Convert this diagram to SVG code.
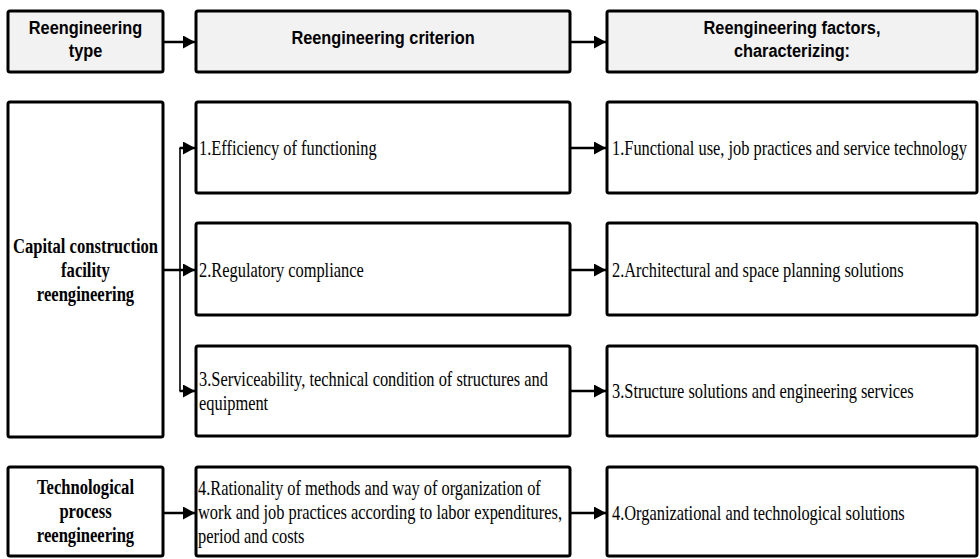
<svg xmlns="http://www.w3.org/2000/svg" width="980" height="559" viewBox="0 0 980 559">
<style>
.hdr{fill:#f2f2f2;stroke:#000;stroke-width:3}
.box{fill:#fff;stroke:#000;stroke-width:3}
.h{font-family:"Liberation Sans",Arial,sans-serif;font-weight:bold;font-size:19px;fill:#000;text-anchor:middle}
.t{font-family:"Liberation Serif","Times New Roman",serif;font-size:20.5px;fill:#000}
.b{font-family:"Liberation Serif","Times New Roman",serif;font-weight:bold;font-size:21px;fill:#000;text-anchor:middle}
.c{fill:none;stroke:#000;stroke-width:2.5}
.v{fill:none;stroke:#000;stroke-width:1.6}
</style>
<defs>
<marker id="ah" markerUnits="userSpaceOnUse" markerWidth="12" markerHeight="13" refX="12" refY="6.5" orient="auto">
<path d="M0,0 L12,6.5 L0,13 z" fill="#000"/>
</marker>
</defs>
<g id="hdr-type">
<rect class="hdr" x="8" y="11" width="155" height="61" rx="2"/>
<text class="h" transform="translate(85.5,34) scale(0.86,1)">Reengineering</text>
<text class="h" transform="translate(85.5,57) scale(0.86,1)">type</text>
</g>
<g id="hdr-criterion">
<rect class="hdr" x="196" y="11" width="374" height="61" rx="2"/>
<text class="h" transform="translate(383,44) scale(0.86,1)">Reengineering criterion</text>
</g>
<g id="hdr-factors">
<rect class="hdr" x="607" y="11" width="370" height="61" rx="2"/>
<text class="h" transform="translate(792,34) scale(0.86,1)">Reengineering factors,</text>
<text class="h" transform="translate(792,57) scale(0.86,1)">characterizing:</text>
</g>
<g id="type-capital">
<rect class="box" x="8" y="102" width="155" height="335" rx="2"/>
<text class="b" transform="translate(85.5,253) scale(0.79,1)">Capital construction</text>
<text class="b" transform="translate(85.5,277) scale(0.79,1)">facility</text>
<text class="b" transform="translate(85.5,301) scale(0.79,1)">reengineering</text>
</g>
<g id="type-tech">
<rect class="box" x="8" y="467" width="155" height="89" rx="2"/>
<text class="b" transform="translate(85.5,494) scale(0.79,1)">Technological</text>
<text class="b" transform="translate(85.5,518) scale(0.79,1)">process</text>
<text class="b" transform="translate(85.5,542) scale(0.79,1)">reengineering</text>
</g>
<g id="crit-1">
<rect class="box" x="196" y="102" width="374" height="91" rx="2"/>
<text class="t" transform="translate(199,155) scale(0.8,1)">1.Efficiency of functioning</text>
</g>
<g id="crit-2">
<rect class="box" x="196" y="223" width="374" height="92" rx="2"/>
<text class="t" transform="translate(199,277) scale(0.8,1)">2.Regulatory compliance</text>
</g>
<g id="crit-3">
<rect class="box" x="196" y="346" width="374" height="90" rx="2"/>
<text class="t" transform="translate(199,386) scale(0.8,1)">3.Serviceability, technical condition of structures and</text>
<text class="t" transform="translate(199,410) scale(0.8,1)">equipment</text>
</g>
<g id="crit-4">
<rect class="box" x="196" y="467" width="374" height="89" rx="2"/>
<text class="t" transform="translate(198,495) scale(0.8,1)">4.Rationality of methods and way of organization of</text>
<text class="t" transform="translate(198,519) scale(0.8,1)">work and job practices according to labor expenditures,</text>
<text class="t" transform="translate(198,543) scale(0.8,1)">period and costs</text>
</g>
<g id="fact-1">
<rect class="box" x="607" y="102" width="370" height="91" rx="2"/>
<text class="t" transform="translate(612,155) scale(0.8,1)">1.Functional use, job practices and service technology</text>
</g>
<g id="fact-2">
<rect class="box" x="607" y="223" width="370" height="92" rx="2"/>
<text class="t" transform="translate(612,277) scale(0.8,1)">2.Architectural and space planning solutions</text>
</g>
<g id="fact-3">
<rect class="box" x="607" y="346" width="370" height="90" rx="2"/>
<text class="t" transform="translate(612,398) scale(0.8,1)">3.Structure solutions and engineering services</text>
</g>
<g id="fact-4">
<rect class="box" x="607" y="467" width="370" height="89" rx="2"/>
<text class="t" transform="translate(612,520) scale(0.8,1)">4.Organizational and technological solutions</text>
</g>
<g id="connectors">
<path class="c" d="M164,42 H195" marker-end="url(#ah)"/>
<path class="c" d="M571,42 H606" marker-end="url(#ah)"/>
<path class="v" d="M180,148 V391"/>
<path class="c" d="M179.5,148 H195" marker-end="url(#ah)"/>
<path class="c" d="M164,270 H195" marker-end="url(#ah)"/>
<path class="c" d="M179.5,391 H195" marker-end="url(#ah)"/>
<path class="c" d="M164,513 H195" marker-end="url(#ah)"/>
<path class="c" d="M571,148 H606" marker-end="url(#ah)"/>
<path class="c" d="M571,270 H606" marker-end="url(#ah)"/>
<path class="c" d="M571,391 H606" marker-end="url(#ah)"/>
<path class="c" d="M571,513 H606" marker-end="url(#ah)"/>
</g>
</svg>
